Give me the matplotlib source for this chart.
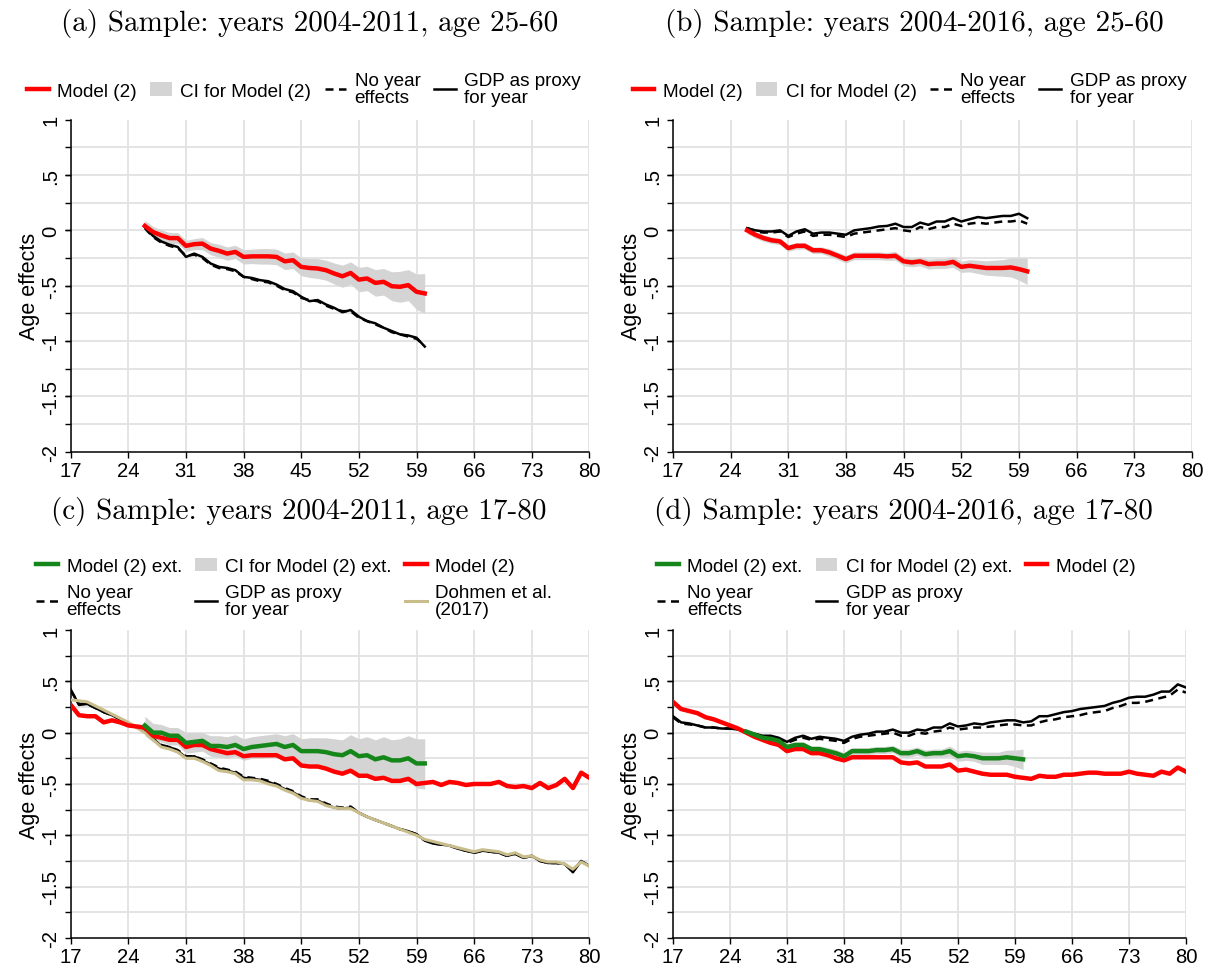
import numpy as np
import matplotlib.pyplot as plt
from matplotlib.lines import Line2D
from matplotlib.patches import Patch
from matplotlib.ticker import FixedLocator

plt.rcParams["font.family"] = ["Liberation Sans", "DejaVu Sans"]

# data: panels (a)/(b) cover ages 26-60, panels (c)/(d) ages 17-80
ages_short = list(range(26, 61))
ages_long = list(range(17, 81))

# (a) years 2004-2011, age 25-60
red_a = [0.04, -0.015, -0.045, -0.07, -0.07, -0.14, -0.125, -0.12, -0.165, -0.185,
         -0.21, -0.195, -0.24, -0.235, -0.235, -0.235, -0.24, -0.28, -0.27, -0.33,
         -0.34, -0.345, -0.36, -0.39, -0.415, -0.385, -0.445, -0.435, -0.475, -0.465,
         -0.505, -0.51, -0.495, -0.555, -0.57]
ci_hi_a = [0.09, 0.035, 0.005, -0.02, -0.02, -0.09, -0.075, -0.065, -0.11, -0.125,
           -0.15, -0.135, -0.175, -0.17, -0.165, -0.165, -0.17, -0.205, -0.195, -0.25,
           -0.255, -0.255, -0.27, -0.295, -0.315, -0.285, -0.335, -0.325, -0.355, -0.345,
           -0.375, -0.37, -0.355, -0.395, -0.39]
ci_lo_a = [-0.01, -0.065, -0.095, -0.12, -0.12, -0.19, -0.175, -0.175, -0.22, -0.245,
           -0.27, -0.255, -0.305, -0.3, -0.305, -0.305, -0.31, -0.355, -0.345, -0.41,
           -0.425, -0.435, -0.45, -0.485, -0.515, -0.485, -0.555, -0.545, -0.595, -0.585,
           -0.635, -0.65, -0.635, -0.715, -0.75]
gdp_a = [0.03, -0.05, -0.1, -0.13, -0.15, -0.24, -0.21, -0.24, -0.3, -0.33,
         -0.34, -0.36, -0.42, -0.43, -0.45, -0.46, -0.49, -0.53, -0.55, -0.6,
         -0.64, -0.63, -0.67, -0.7, -0.74, -0.72, -0.78, -0.82, -0.84, -0.88,
         -0.91, -0.94, -0.95, -0.97, -1.05]
noyear_a = [0.02, -0.06, -0.11, -0.14, -0.16, -0.23, -0.22, -0.25, -0.31, -0.34,
            -0.35, -0.37, -0.42, -0.44, -0.46, -0.47, -0.5, -0.54, -0.56, -0.61,
            -0.63, -0.64, -0.68, -0.71, -0.73, -0.73, -0.79, -0.82, -0.85, -0.88,
            -0.92, -0.94, -0.96, -0.98, -1.04]

# (b) years 2004-2016, age 25-60
red_b = [0.0, -0.04, -0.07, -0.09, -0.1, -0.16, -0.14, -0.14, -0.18, -0.18,
         -0.2, -0.23, -0.26, -0.23, -0.23, -0.23, -0.23, -0.235, -0.23, -0.28,
         -0.29, -0.28, -0.305, -0.3, -0.3, -0.285, -0.33, -0.32, -0.33, -0.34,
         -0.34, -0.34, -0.335, -0.35, -0.37]
ci_hi_b = [0.03, -0.01, -0.04, -0.06, -0.07, -0.13, -0.11, -0.11, -0.15, -0.15,
           -0.165, -0.195, -0.225, -0.195, -0.195, -0.195, -0.195, -0.2, -0.19, -0.24,
           -0.25, -0.24, -0.26, -0.255, -0.255, -0.235, -0.28, -0.265, -0.27, -0.275,
           -0.27, -0.265, -0.25, -0.25, -0.25]
ci_lo_b = [-0.03, -0.07, -0.1, -0.12, -0.13, -0.19, -0.17, -0.17, -0.21, -0.21,
           -0.235, -0.265, -0.295, -0.265, -0.265, -0.265, -0.265, -0.27, -0.27, -0.32,
           -0.33, -0.32, -0.35, -0.345, -0.345, -0.335, -0.38, -0.375, -0.39, -0.405,
           -0.41, -0.415, -0.42, -0.45, -0.49]
gdp_b = [0.02, 0.0, -0.01, -0.01, 0.0, -0.05, -0.01, 0.01, -0.03, -0.02,
         -0.02, -0.03, -0.04, 0.0, 0.01, 0.02, 0.035, 0.04, 0.06, 0.03,
         0.03, 0.07, 0.05, 0.08, 0.08, 0.11, 0.08, 0.1, 0.12, 0.11,
         0.12, 0.13, 0.13, 0.15, 0.11]
noyear_b = [0.02, -0.01, -0.02, -0.02, -0.01, -0.06, -0.03, -0.01, -0.05, -0.04,
            -0.04, -0.05, -0.06, -0.03, -0.02, -0.01, 0.0, 0.01, 0.02, 0.0,
            -0.01, 0.03, 0.01, 0.03, 0.03, 0.06, 0.04, 0.06, 0.07, 0.06,
            0.07, 0.08, 0.08, 0.09, 0.06]

# (c) years 2004-2011, age 17-80
green_c = [0.07, 0.0, 0.0, -0.03, -0.03, -0.1, -0.09, -0.08, -0.13, -0.13,
           -0.14, -0.12, -0.16, -0.14, -0.13, -0.12, -0.11, -0.14, -0.12, -0.18,
           -0.18, -0.18, -0.19, -0.21, -0.22, -0.18, -0.23, -0.22, -0.26, -0.24,
           -0.27, -0.27, -0.25, -0.3, -0.3]
ci_hi_c = [0.16, 0.09, 0.08, 0.05, 0.05, 0.0, 0.0, 0.0, -0.03, -0.03,
           -0.04, -0.02, -0.06, -0.04, -0.03, -0.02, -0.01, -0.03, -0.01, -0.06,
           -0.05, -0.05, -0.05, -0.06, -0.07, -0.02, -0.06, -0.04, -0.07, -0.04,
           -0.07, -0.06, -0.03, -0.06, -0.06]
ci_lo_c = [-0.03, -0.09, -0.09, -0.12, -0.12, -0.2, -0.19, -0.18, -0.23, -0.24,
           -0.25, -0.23, -0.27, -0.25, -0.25, -0.24, -0.23, -0.27, -0.25, -0.31,
           -0.32, -0.32, -0.34, -0.36, -0.38, -0.34, -0.4, -0.4, -0.45, -0.44,
           -0.48, -0.48, -0.47, -0.54, -0.55]
red_c = [0.27, 0.17, 0.16, 0.16, 0.1, 0.12, 0.1, 0.07, 0.06, 0.05,
         -0.03, -0.05, -0.07, -0.07, -0.14, -0.12, -0.12, -0.16, -0.18, -0.2,
         -0.19, -0.23, -0.22, -0.22, -0.22, -0.22, -0.26, -0.25, -0.32, -0.33,
         -0.33, -0.35, -0.38, -0.4, -0.37, -0.42, -0.42, -0.45, -0.44, -0.47,
         -0.47, -0.45, -0.5, -0.49, -0.48, -0.51, -0.48, -0.49, -0.51, -0.5,
         -0.5, -0.5, -0.48, -0.52, -0.53, -0.52, -0.54, -0.49, -0.54, -0.51,
         -0.45, -0.54, -0.39, -0.44]
gdp_c = [0.42, 0.27, 0.28, 0.24, 0.2, 0.17, 0.13, 0.09, 0.05, 0.01,
         -0.06, -0.13, -0.14, -0.18, -0.24, -0.23, -0.27, -0.31, -0.35, -0.37,
         -0.39, -0.44, -0.45, -0.46, -0.48, -0.51, -0.55, -0.58, -0.63, -0.66,
         -0.66, -0.7, -0.73, -0.74, -0.73, -0.78, -0.82, -0.85, -0.88, -0.91,
         -0.94, -0.96, -0.99, -1.05, -1.08, -1.09, -1.1, -1.13, -1.15, -1.17,
         -1.15, -1.16, -1.17, -1.2, -1.18, -1.22, -1.2, -1.25, -1.27, -1.27,
         -1.28, -1.36, -1.25, -1.3]
noyear_c = [0.41, 0.28, 0.28, 0.24, 0.2, 0.17, 0.13, 0.09, 0.05, 0.01,
            -0.06, -0.12, -0.14, -0.17, -0.23, -0.23, -0.26, -0.3, -0.34, -0.36,
            -0.38, -0.43, -0.44, -0.45, -0.47, -0.5, -0.54, -0.57, -0.62, -0.65,
            -0.65, -0.69, -0.72, -0.73, -0.72, -0.78, -0.82, -0.85, -0.88, -0.91,
            -0.94, -0.96, -0.99, -1.05, -1.08, -1.09, -1.1, -1.13, -1.15, -1.17,
            -1.15, -1.16, -1.17, -1.2, -1.18, -1.22, -1.2, -1.25, -1.27, -1.27,
            -1.28, -1.35, -1.25, -1.3]
dohmen_c = [0.32, 0.31, 0.3, 0.26, 0.22, 0.18, 0.14, 0.1, 0.05, 0.0,
            -0.07, -0.14, -0.16, -0.19, -0.25, -0.25, -0.28, -0.32, -0.37, -0.38,
            -0.4, -0.46, -0.46, -0.47, -0.5, -0.52, -0.56, -0.59, -0.64, -0.66,
            -0.67, -0.71, -0.73, -0.74, -0.74, -0.78, -0.82, -0.85, -0.88, -0.91,
            -0.94, -0.97, -1.0, -1.04, -1.06, -1.08, -1.1, -1.12, -1.14, -1.16,
            -1.14, -1.15, -1.16, -1.19, -1.17, -1.21, -1.2, -1.24, -1.26, -1.26,
            -1.28, -1.33, -1.26, -1.3]

# (d) years 2004-2016, age 17-80
green_d = [0.01, -0.02, -0.05, -0.06, -0.08, -0.14, -0.12, -0.12, -0.16, -0.16,
           -0.18, -0.2, -0.23, -0.18, -0.18, -0.18, -0.17, -0.17, -0.16, -0.2,
           -0.2, -0.18, -0.21, -0.2, -0.2, -0.18, -0.23, -0.22, -0.23, -0.25,
           -0.25, -0.25, -0.24, -0.25, -0.26]
ci_hi_d = [0.04, 0.01, -0.02, -0.03, -0.05, -0.11, -0.09, -0.09, -0.13, -0.13,
           -0.145, -0.165, -0.195, -0.145, -0.145, -0.145, -0.135, -0.135, -0.125, -0.16,
           -0.16, -0.14, -0.17, -0.16, -0.16, -0.13, -0.18, -0.17, -0.18, -0.19,
           -0.19, -0.19, -0.17, -0.17, -0.16]
ci_lo_d = [-0.02, -0.05, -0.08, -0.09, -0.11, -0.17, -0.15, -0.15, -0.19, -0.19,
           -0.215, -0.235, -0.265, -0.215, -0.215, -0.215, -0.205, -0.205, -0.195, -0.24,
           -0.24, -0.22, -0.25, -0.24, -0.24, -0.23, -0.28, -0.27, -0.28, -0.31,
           -0.31, -0.31, -0.31, -0.33, -0.36]
red_d = [0.3, 0.23, 0.21, 0.19, 0.15, 0.13, 0.1, 0.07, 0.04, 0.0,
         -0.04, -0.07, -0.1, -0.12, -0.18, -0.16, -0.16, -0.2, -0.2, -0.22,
         -0.25, -0.27, -0.24, -0.24, -0.24, -0.24, -0.24, -0.24, -0.29, -0.3,
         -0.29, -0.33, -0.33, -0.33, -0.31, -0.37, -0.36, -0.38, -0.4, -0.41,
         -0.41, -0.41, -0.43, -0.44, -0.45, -0.42, -0.43, -0.43, -0.41, -0.41,
         -0.4, -0.39, -0.39, -0.4, -0.4, -0.4, -0.38, -0.4, -0.41, -0.42,
         -0.38, -0.4, -0.34, -0.38]
gdp_d = [0.16, 0.1, 0.09, 0.07, 0.05, 0.05, 0.04, 0.04, 0.03, 0.01,
         -0.01, -0.03, -0.03, -0.05, -0.09, -0.05, -0.03, -0.06, -0.04, -0.05,
         -0.06, -0.08, -0.04, -0.02, -0.01, 0.01, 0.01, 0.03, 0.0, 0.0,
         0.03, 0.02, 0.05, 0.05, 0.09, 0.06, 0.07, 0.09, 0.08, 0.1,
         0.11, 0.12, 0.12, 0.1, 0.11, 0.16, 0.16, 0.18, 0.2, 0.21,
         0.23, 0.24, 0.25, 0.26, 0.29, 0.31, 0.34, 0.35, 0.35, 0.37,
         0.4, 0.4, 0.47, 0.44]
noyear_d = [0.15, 0.09, 0.08, 0.07, 0.05, 0.05, 0.04, 0.04, 0.03, 0.01,
            -0.02, -0.04, -0.04, -0.06, -0.1, -0.07, -0.05, -0.07, -0.06, -0.07,
            -0.08, -0.1, -0.06, -0.04, -0.03, -0.02, -0.01, 0.0, -0.03, -0.03,
            0.0, -0.01, 0.01, 0.02, 0.05, 0.03, 0.04, 0.05, 0.05, 0.06,
            0.07, 0.08, 0.08, 0.07, 0.07, 0.1, 0.12, 0.13, 0.15, 0.16,
            0.17, 0.19, 0.2, 0.21, 0.24, 0.26, 0.29, 0.29, 0.3, 0.32,
            0.34, 0.36, 0.42, 0.39]

titles = ["(a) Sample: years 2004-2011, age 25-60",
          "(b) Sample: years 2004-2016, age 25-60",
          "(c) Sample: years 2004-2011, age 17-80",
          "(d) Sample: years 2004-2016, age 17-80"]
x_ticks = list(range(17, 81, 7))
y_ticks = [-2, -1.5, -1, -0.5, 0, 0.5, 1]
y_tick_labels = ["-2", "-1.5", "-1", "-.5", "0", ".5", "1"]
y_grid = [-1.75, -1.5, -1.25, -1, -0.75, -0.5, -0.25, 0, 0.25, 0.5, 0.75]

RED = "#ff0000"
GREEN = "#15861a"
TAN = "#c9bd8b"
CI_GREY = "#d4d4d4"
GRID = "#e2e2e2"


def style_axes(ax):
    ax.set_xlim(17, 80)
    ax.set_ylim(-2, 1)
    ax.set_xticks(x_ticks)
    ax.set_yticks(y_ticks)
    ax.set_yticklabels(y_tick_labels, rotation=90, va="center")
    ax.yaxis.set_minor_locator(FixedLocator(y_grid))
    ax.yaxis.remove_overlapping_locs = False
    ax.tick_params(axis="both", which="both", labelsize=14.6, length=4.5,
                   width=1.0, color="black", direction="out")
    ax.tick_params(axis="y", pad=3)
    ax.tick_params(axis="x", pad=2)
    ax.grid(False)
    ax.xaxis.grid(True, which="major", color=GRID, linewidth=1.3)
    ax.yaxis.grid(True, which="minor", color=GRID, linewidth=1.3)
    ax.set_axisbelow(True)
    for side in ("top", "right"):
        ax.spines[side].set_visible(False)
    for side in ("left", "bottom"):
        ax.spines[side].set_linewidth(1.1)
    ax.set_ylabel("Age effects", fontsize=15.5, labelpad=1)


def add_legend(ax, handles, labels, ncol, center):
    leg = ax.legend(handles, labels, loc="center", bbox_to_anchor=center,
                    bbox_transform=fig.transFigure, ncol=ncol, frameon=False,
                    fontsize=13.6, handlelength=1.15, handletextpad=0.45,
                    columnspacing=0.7, labelspacing=0.45, borderaxespad=0)
    for t in leg.get_texts():
        t.set_linespacing(1.02)
    return leg


fig = plt.figure(figsize=(12.11, 9.70), dpi=100)
ax_a = fig.add_axes([0.0584, 0.5333, 0.4283, 0.3423])
ax_b = fig.add_axes([0.5557, 0.5333, 0.4286, 0.3423])
ax_c = fig.add_axes([0.0584, 0.0320, 0.4283, 0.3175])
ax_d = fig.add_axes([0.5557, 0.0320, 0.4236, 0.3175])

h_red = Line2D([], [], color=RED, lw=3.2)
h_ci = Patch(facecolor=CI_GREY, edgecolor="none")
h_noyear = Line2D([], [], color="black", lw=1.8, dashes=(3.2, 2.2))
h_gdp = Line2D([], [], color="black", lw=1.8)
h_green = Line2D([], [], color=GREEN, lw=3.2)
h_dohmen = Line2D([], [], color=TAN, lw=2.2)

# top panels
for ax, red, lo, hi, gdp, noyear in [(ax_a, red_a, ci_lo_a, ci_hi_a, gdp_a, noyear_a),
                                      (ax_b, red_b, ci_lo_b, ci_hi_b, gdp_b, noyear_b)]:
    style_axes(ax)
    ax.fill_between(ages_short, lo, hi, color=CI_GREY, lw=0, zorder=2)
    ax.plot(ages_short, noyear, color="black", lw=1.8, dashes=(3.2, 2.2), zorder=3)
    ax.plot(ages_short, gdp, color="black", lw=1.8, zorder=3)
    ax.plot(ages_short, red, color=RED, lw=3.2, zorder=4)

add_legend(ax_a, [h_red, h_ci, h_noyear, h_gdp],
           ["Model (2)", "CI for Model (2)", "No year\neffects", "GDP as proxy\nfor year"],
           4, (0.251, 0.907))
add_legend(ax_b, [h_red, h_ci, h_noyear, h_gdp],
           ["Model (2)", "CI for Model (2)", "No year\neffects", "GDP as proxy\nfor year"],
           4, (0.751, 0.907))

# bottom panels
for ax, green, lo, hi, red, gdp, noyear in [
        (ax_c, green_c, ci_lo_c, ci_hi_c, red_c, gdp_c, noyear_c),
        (ax_d, green_d, ci_lo_d, ci_hi_d, red_d, gdp_d, noyear_d)]:
    style_axes(ax)
    ax.fill_between(ages_short, lo, hi, color=CI_GREY, lw=0, zorder=2)
    ax.plot(ages_long, noyear, color="black", lw=1.8, dashes=(3.2, 2.2), zorder=3)
    ax.plot(ages_long, gdp, color="black", lw=1.8, zorder=3)
    if ax is ax_c:
        ax.plot(ages_long, dohmen_c, color=TAN, lw=2.2, zorder=3)
    ax.plot(ages_long, red, color=RED, lw=3.2, zorder=4)
    ax.plot(ages_short, green, color=GREEN, lw=3.2, zorder=5)

add_legend(ax_c, [h_green, h_noyear, h_ci, h_gdp, h_red, h_dohmen],
           ["Model (2) ext.", "No year\neffects", "CI for Model (2) ext.",
            "GDP as proxy\nfor year", "Model (2)", "Dohmen et al.\n(2017)"],
           3, (0.243, 0.393))
add_legend(ax_d, [h_green, h_noyear, h_ci, h_gdp, h_red],
           ["Model (2) ext.", "No year\neffects", "CI for Model (2) ext.",
            "GDP as proxy\nfor year", "Model (2)"],
           3, (0.74, 0.393))

for title, (x, y) in zip(titles, [(0.256, 0.976), (0.755, 0.976),
                                  (0.247, 0.473), (0.746, 0.473)]):
    fig.text(x, y, title, ha="center", va="center", fontsize=21,
             family=["cmr10", "DejaVu Serif"])

fig.savefig("out.png", dpi=100)
